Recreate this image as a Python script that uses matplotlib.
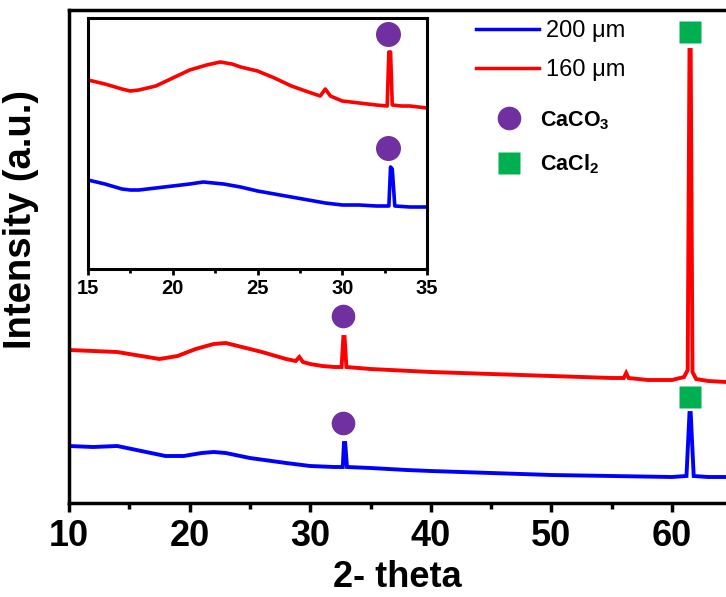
import matplotlib
matplotlib.use("Agg")
import matplotlib.pyplot as plt
from matplotlib.lines import Line2D
from matplotlib.ticker import MultipleLocator

plt.rcParams['font.family'] = ['Liberation Sans', 'DejaVu Sans']
plt.rcParams['mathtext.fontset'] = 'custom'
plt.rcParams['mathtext.rm'] = 'Liberation Sans'
plt.rcParams['mathtext.bf'] = 'Liberation Sans:bold'

NARROW = ['Liberation Sans Narrow', 'Liberation Sans']

# ---------------- data ----------------
# main panel, 160 um (red)
red_x = [10, 12, 14, 16, 17.5, 19, 20.5, 22, 23, 24, 26, 28, 28.8, 29.1, 29.4, 30, 31, 32,
         32.6, 32.75, 32.85, 33.0, 35, 40, 45, 50, 55, 56.0, 56.2, 56.4, 58, 60, 61.0, 61.3,
         61.45, 61.55, 61.7, 62.0, 63, 64.5]
red_y = [153, 152, 151, 147, 144, 147, 154, 159, 160, 157, 151, 144, 142, 146, 141, 139, 137, 136,
         136, 166, 166, 136, 134, 131, 129, 127, 125, 125, 130, 125, 123, 123, 126, 133,
         453, 453, 131, 124, 122, 121]
# main panel, 200 um (blue)
blue_x = [10, 12, 14, 16, 18, 19.5, 21, 22, 23, 25, 28, 30, 32, 32.7, 32.8, 32.9, 33.05, 35, 38,
          40, 45, 50, 55, 60, 61.2, 61.45, 61.55, 61.8, 63, 64.5]
blue_y = [57, 56, 57, 52, 47, 47, 50, 51, 50, 45, 40, 37, 36, 36, 60, 60, 36, 35, 33,
          32, 30, 28, 27, 26, 27, 90, 90, 27, 26, 26]

# inset (15-35)
ired_x = [15, 16, 17, 17.5, 18, 19, 20, 21, 22, 22.8, 23.5, 24, 25, 26, 27, 28, 28.7, 29.0, 29.3,
          30, 31, 32, 32.65, 32.75, 32.85, 32.95, 33.5, 34, 35]
ired_y = [189, 185, 180, 178, 179, 183, 191, 199, 204, 207, 205, 202, 198, 191, 183, 177, 173, 180, 173,
          168, 166, 164, 163, 217, 217, 164, 163, 163, 161]
iblue_x = [15, 16, 17, 17.5, 18, 19, 20, 21, 21.8, 23, 24, 25, 26, 27, 28, 29, 30, 31, 32,
           32.75, 32.85, 32.95, 33.1, 34, 35]
iblue_y = [89, 85, 80, 79, 79, 81, 83, 85, 87, 85, 82, 78, 75, 72, 69, 66, 64, 64, 63,
           63, 102, 100, 63, 62, 62]

# phase markers
caco3_main_x = [32.7, 32.7]
caco3_main_y = [187, 80]
cacl2_main_x = [61.5, 61.5]
cacl2_main_y = [471, 106]
caco3_inset_x = [32.7, 32.7]
caco3_inset_y = [235, 121]

series_labels = ['200 \u03bcm', '160 \u03bcm']
phase_labels = [r'$\mathbf{CaCO_3}$', r'$\mathbf{CaCl_2}$']
main_xticks = [10, 20, 30, 40, 50, 60]
inset_xticks = [15, 20, 25, 30, 35]

BLUE = '#0000FF'
RED = '#FF0000'
PURPLE = '#7030A0'
GREEN = '#00B050'

# ---------------- figure ----------------
fig = plt.figure(figsize=(7.26, 5.97), dpi=100)
ax = fig.add_axes([69 / 726, (597 - 503) / 597, 1 - 69 / 726, (503 - 10) / 597])

ax.plot(blue_x, blue_y, color=BLUE, lw=2.8, solid_joinstyle='miter')
ax.plot(red_x, red_y, color=RED, lw=2.8, solid_joinstyle='miter')
ax.plot(caco3_main_x, caco3_main_y, 'o', ms=17, color=PURPLE, mec='none')
ax.plot(cacl2_main_x, cacl2_main_y, 's', ms=16.5, color=GREEN, mec='none')

ax.set_xlim(10, 10 + (726 - 69) / 12.06)
ax.set_ylim(0, 493)
ax.set_xticks(main_xticks)
ax.xaxis.set_minor_locator(MultipleLocator(5))
ax.set_yticks([])
ax.spines['right'].set_visible(False)
for s in ['left', 'top', 'bottom']:
    ax.spines[s].set_linewidth(2.5)
ax.tick_params(axis='x', which='major', direction='out', length=6.5, width=2.5, pad=5)
ax.tick_params(axis='x', which='minor', direction='out', length=4.3, width=2.5)
for lab in ax.get_xticklabels():
    lab.set_family(NARROW)
    lab.set_fontweight('bold')
    lab.set_fontsize(26)
ax.set_xlabel('2- theta', family=NARROW, fontweight='bold', fontsize=26, labelpad=4)
ax.set_ylabel('Intensity (a.u.)', fontweight='bold', fontsize=27.5)
ax.yaxis.set_label_coords(-0.045, 0.575)

# legends
h_lines = [Line2D([], [], color=BLUE, lw=2.5), Line2D([], [], color=RED, lw=2.5)]
leg1 = ax.legend(h_lines, series_labels, loc='upper left', bbox_to_anchor=(476 / 726, 1 - 20 / 597),
                 bbox_transform=fig.transFigure, frameon=False, fontsize=17, handlelength=2.65,
                 handletextpad=0.3, labelspacing=0.72, borderpad=0, borderaxespad=0)
ax.add_artist(leg1)
h_ph = [Line2D([], [], ls='none', marker='o', ms=17, color=PURPLE, mec='none'),
        Line2D([], [], ls='none', marker='s', ms=16.5, color=GREEN, mec='none')]
leg2 = ax.legend(h_ph, phase_labels, loc='upper left', bbox_to_anchor=(494 / 726, 1 - 109 / 597),
                 bbox_transform=fig.transFigure, frameon=False, fontsize=15.5, handlelength=1.4,
                 handletextpad=0.75, labelspacing=0.98, borderpad=0, borderaxespad=0)

# inset
ins = fig.add_axes([88 / 726, (597 - 269) / 597, (427 - 88) / 726, (269 - 18) / 597])
ins.plot(iblue_x, iblue_y, color=BLUE, lw=2.6)
ins.plot(ired_x, ired_y, color=RED, lw=2.6)
ins.plot(caco3_inset_x, caco3_inset_y, 'o', ms=18, color=PURPLE, mec='none')
ins.set_xlim(15, 35)
ins.set_ylim(0, 251)
ins.set_xticks(inset_xticks)
ins.xaxis.set_minor_locator(MultipleLocator(2.5))
ins.set_yticks([])
for s in ins.spines.values():
    s.set_linewidth(2.2)
ins.tick_params(axis='x', which='major', direction='out', length=4, width=2, pad=3)
ins.tick_params(axis='x', which='minor', direction='out', length=3, width=2)
for lab in ins.get_xticklabels():
    lab.set_family(NARROW)
    lab.set_fontweight('bold')
    lab.set_fontsize(14.5)

fig.savefig('out.png', dpi=100)
